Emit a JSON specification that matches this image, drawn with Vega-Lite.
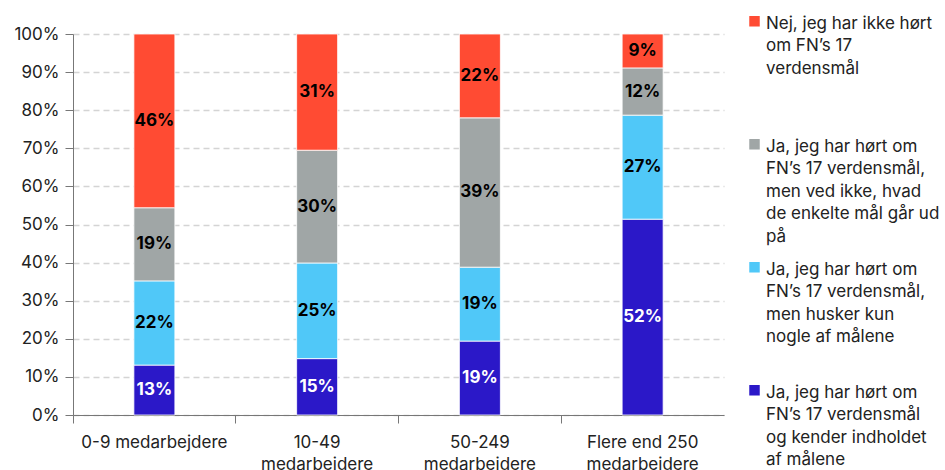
{
  "$schema": "https://vega.github.io/schema/vega-lite/v6.json",
  "autosize": "none",
  "width": 651,
  "height": 381,
  "padding": {"left": 73, "top": 34, "right": 221, "bottom": 55},
  "background": "white",
  "config": {
    "font": "Inter",
    "view": {"stroke": null},
    "style": {"guide-label": {"lineHeight": 22.5}}
  },
  "data": {
    "values": [
      {"cat": "0-9 medarbejdere", "series": "kender", "rank": 1, "value": 0.131, "label": "13%"},
      {"cat": "0-9 medarbejdere", "series": "husker", "rank": 2, "value": 0.221, "label": "22%"},
      {"cat": "0-9 medarbejdere", "series": "vedikke", "rank": 3, "value": 0.192, "label": "19%"},
      {"cat": "0-9 medarbejdere", "series": "nej", "rank": 4, "value": 0.456, "label": "46%"},
      {"cat": "10-49|medarbejdere", "series": "kender", "rank": 1, "value": 0.148, "label": "15%"},
      {"cat": "10-49|medarbejdere", "series": "husker", "rank": 2, "value": 0.251, "label": "25%"},
      {"cat": "10-49|medarbejdere", "series": "vedikke", "rank": 3, "value": 0.296, "label": "30%"},
      {"cat": "10-49|medarbejdere", "series": "nej", "rank": 4, "value": 0.305, "label": "31%"},
      {"cat": "50-249|medarbejdere", "series": "kender", "rank": 1, "value": 0.194, "label": "19%"},
      {"cat": "50-249|medarbejdere", "series": "husker", "rank": 2, "value": 0.194, "label": "19%"},
      {"cat": "50-249|medarbejdere", "series": "vedikke", "rank": 3, "value": 0.392, "label": "39%"},
      {"cat": "50-249|medarbejdere", "series": "nej", "rank": 4, "value": 0.220, "label": "22%"},
      {"cat": "Flere end 250|medarbejdere", "series": "kender", "rank": 1, "value": 0.514, "label": "52%"},
      {"cat": "Flere end 250|medarbejdere", "series": "husker", "rank": 2, "value": 0.273, "label": "27%"},
      {"cat": "Flere end 250|medarbejdere", "series": "vedikke", "rank": 3, "value": 0.124, "label": "12%"},
      {"cat": "Flere end 250|medarbejdere", "series": "nej", "rank": 4, "value": 0.089, "label": "9%"}
    ]
  },
  "transform": [
    {"stack": "value", "groupby": ["cat"], "sort": [{"field": "rank", "order": "ascending"}], "as": ["v0", "v1"]},
    {"calculate": "(datum.v0 + datum.v1) / 2", "as": "mid"}
  ],
  "encoding": {
    "x": {
      "field": "cat", "type": "nominal", "sort": null, "title": null,
      "scale": {"paddingInner": 0, "paddingOuter": 0},
      "axis": {
        "labelAngle": 0, "labelExpr": "split(datum.label, '|')",
        "labelFontSize": 17, "labelColor": "#222", "labelPadding": 11,
        "bandPosition": 0, "tickSize": 8, "domainColor": "#777", "tickColor": "#777",
        "labelLineHeight": 22
      }
    }
  },
  "layer": [
    {
      "mark": {"type": "bar", "size": 41, "stroke": "white", "strokeWidth": 0.8},
      "encoding": {
        "y": {
          "field": "v0", "type": "quantitative", "title": null,
          "scale": {"domain": [0, 1]},
          "axis": {
            "values": [0, 0.1, 0.2, 0.3, 0.4, 0.5, 0.6, 0.7, 0.8, 0.9, 1],
            "format": ".0%", "labelFontSize": 17, "labelColor": "#222",
            "tickSize": 8, "domainColor": "#777", "tickColor": "#777",
            "gridColor": "#d4d4d4", "gridDash": [6, 4], "gridWidth": 1.5,
            "labelPadding": 6, "labelOverlap": false
          }
        },
        "y2": {"field": "v1"},
        "color": {
          "field": "series", "type": "nominal",
          "scale": {
            "domain": ["nej", "vedikke", "husker", "kender"],
            "range": ["#FF4B33", "#A0A6A6", "#50C8F8", "#2B18C8"]
          },
          "legend": {
            "orient": "none", "legendX": 673, "legendY": -27,
            "title": null, "symbolType": "M-1,0.1H1V2.1H-1Z", "symbolSize": 110,
            "symbolStrokeWidth": 0,
            "labelFontSize": 17, "labelColor": "#222", "labelLimit": 300,
            "labelBaseline": "top", "labelOffset": 3, "rowPadding": 8,
            "labelExpr": "datum.value == 'nej' ? ['Nej, jeg har ikke hørt', 'om FN’s 17', 'verdensmål', ' ', ' '] : datum.value == 'vedikke' ? ['Ja, jeg har hørt om', 'FN’s 17 verdensmål,', 'men ved ikke, hvad', 'de enkelte mål går ud', 'på'] : datum.value == 'husker' ? ['Ja, jeg har hørt om', 'FN’s 17 verdensmål,', 'men husker kun', 'nogle af målene', ' '] : ['Ja, jeg har hørt om', 'FN’s 17 verdensmål', 'og kender indholdet', 'af målene', ' ']"
          }
        }
      }
    },
    {
      "mark": {"type": "text", "fontWeight": "bold", "fontSize": 17, "font": "Inter"},
      "encoding": {
        "y": {
          "field": "mid", "type": "quantitative",
          "axis": {
            "values": [0, 0.1, 0.2, 0.3, 0.4, 0.5, 0.6, 0.7, 0.8, 0.9, 1],
            "format": ".0%", "labelFontSize": 17, "labelColor": "#222",
            "tickSize": 8, "domainColor": "#777", "tickColor": "#777",
            "gridColor": "#d4d4d4", "gridDash": [6, 4], "gridWidth": 1.5,
            "labelPadding": 6, "labelOverlap": false
          }
        },
        "text": {"field": "label"},
        "color": {
          "condition": {"test": "datum.rank == 1", "value": "white"},
          "value": "black"
        }
      }
    }
  ]
}
